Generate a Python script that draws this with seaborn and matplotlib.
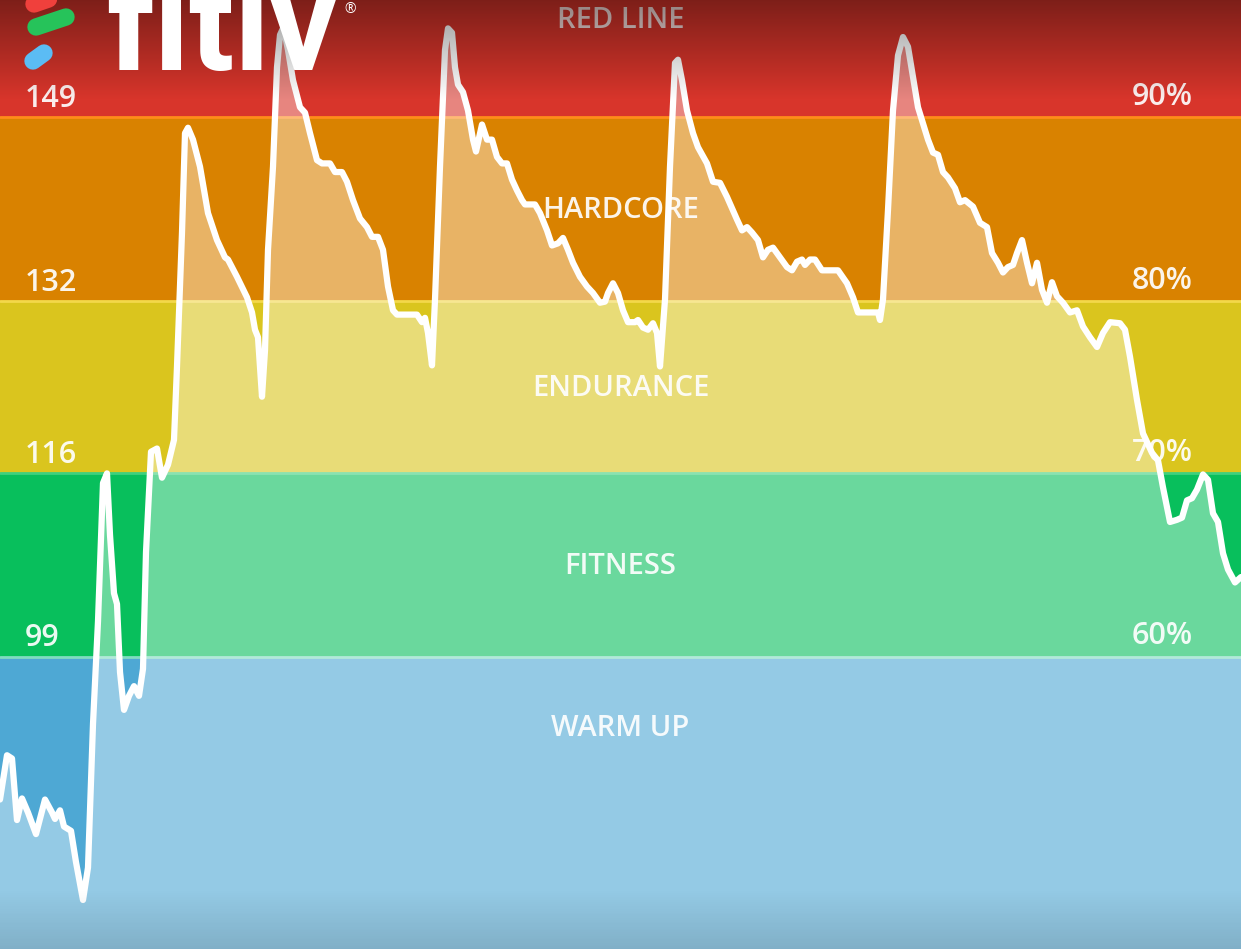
import numpy as np
import pandas as pd
import matplotlib.pyplot as plt
import seaborn as sns

# heart rate trace (time in seconds, bpm)
time_s = [0, 14, 24, 34, 44, 56, 72, 90, 104, 110, 120, 128, 142, 152, 166, 176,
          186, 196, 206, 214, 220, 228, 234, 240, 248, 258, 268, 278, 286, 292,
          302, 314, 324, 336, 348, 354, 364, 370, 376, 386, 400, 416, 434, 450,
          456, 474, 494, 504, 510, 516, 524, 530, 536, 546, 554, 560, 566, 572,
          576, 586, 600, 610, 620, 634, 644, 660, 670, 684, 694, 706, 720, 734,
          744, 756, 766, 776, 786, 794, 834, 844, 850, 856, 864, 870, 880, 890,
          896, 904, 910, 916, 926, 936, 946, 952, 964, 974, 984, 994, 1004, 1014,
          1024, 1034, 1044, 1050, 1070, 1080, 1094, 1104, 1116, 1126, 1136, 1146,
          1160, 1174, 1186, 1200, 1210, 1216, 1226, 1236, 1246, 1256, 1270, 1276,
          1286, 1296, 1306, 1314, 1320, 1330, 1340, 1350, 1356, 1364, 1374, 1386,
          1396, 1414, 1426, 1440, 1454, 1474, 1484, 1494, 1504, 1516, 1526, 1536,
          1546, 1560, 1574, 1584, 1594, 1604, 1610, 1620, 1630, 1644, 1660, 1676,
          1694, 1706, 1716, 1726, 1756, 1760, 1766, 1776, 1786, 1796, 1806, 1816,
          1826, 1836, 1846, 1856, 1866, 1876, 1886, 1896, 1910, 1920, 1930, 1946,
          1960, 1974, 1984, 1996, 2006, 2016, 2026, 2034, 2044, 2054, 2064, 2074,
          2084, 2094, 2104, 2114, 2126, 2140, 2154, 2166, 2180, 2194, 2206, 2220,
          2240, 2250, 2260, 2274, 2286, 2304, 2316, 2326, 2340, 2354, 2364, 2374,
          2384, 2394, 2406, 2416, 2426, 2436, 2446, 2456, 2470, 2482]
bpm = [85.8, 89.9, 89.6, 83.9, 85.9, 84.6, 82.6, 85.8, 84.6, 84.0, 84.8, 83.3,
       82.9, 80.0, 76.5, 79.5, 92.8, 102.3, 115.1, 116.0, 110.3, 104.9, 103.9,
       97.6, 94.1, 95.4, 96.3, 95.4, 97.9, 108.7, 118.0, 118.3, 115.6, 116.8,
       119.1, 125.9, 138.3, 147.5, 148.0, 146.9, 144.4, 140.1, 137.6, 136.0,
       135.8, 134.2, 132.3, 130.9, 129.3, 128.6, 123.1, 127.4, 136.7, 144.4,
       153.6, 156.6, 157.2, 156.1, 155.2, 152.4, 149.9, 149.4, 147.5, 145.0,
       144.7, 144.7, 143.9, 143.9, 143.0, 141.3, 139.6, 138.8, 137.9, 137.9,
       136.7, 133.3, 131.1, 130.7, 130.7, 130.0, 130.4, 129.0, 126.0, 132.1,
       144.4, 155.2, 157.2, 156.8, 153.6, 152.0, 151.3, 149.6, 146.9, 145.8,
       148.3, 146.9, 146.9, 145.3, 144.7, 144.7, 143.2, 142.2, 141.3, 140.9,
       140.9, 140.1, 138.5, 137.1, 137.3, 137.8, 136.7, 135.5, 134.2, 133.3,
       132.7, 131.8, 131.9, 132.7, 133.6, 132.7, 131.1, 130.0, 130.0, 130.2,
       129.5, 129.3, 129.9, 129.0, 125.9, 132.1, 144.4, 154.0, 154.3, 152.4,
       149.6, 147.5, 146.2, 144.7, 143.0, 142.9, 141.6, 139.5, 138.5, 138.8,
       138.3, 137.6, 136.0, 136.7, 136.9, 136.0, 135.1, 134.8, 135.6, 135.8,
       135.3, 135.8, 135.8, 134.8, 134.8, 134.8, 133.6, 132.3, 130.9, 130.9,
       130.9, 130.2, 132.1, 140.4, 149.6, 154.7, 156.4, 155.5, 152.7, 149.9,
       148.4, 146.9, 145.7, 145.5, 143.9, 143.4, 142.4, 141.1, 141.3, 140.7,
       139.2, 138.8, 136.4, 135.5, 134.6, 135.1, 135.3, 136.4, 137.6, 135.5,
       133.6, 135.5, 133.0, 131.8, 133.7, 132.4, 131.8, 130.9, 131.1, 129.6,
       128.6, 127.7, 129.0, 130.0, 129.9, 129.3, 126.8, 122.8, 119.7, 117.9,
       117.2, 114.7, 111.5, 111.7, 111.9, 113.5, 113.7, 114.5, 115.9, 115.4,
       112.3, 111.5, 108.6, 107.1, 105.9, 106.4]

# zones
zone_names = ['WARM UP', 'FITNESS', 'ENDURANCE', 'HARDCORE', 'RED LINE']
zone_edges = [99, 116, 132, 149]
zone_pcts = ['60%', '70%', '80%', '90%']
zone_colors = ['#4ea8d4', '#08bf5c', '#dac51e', '#d98200', '#d8352b']
edge_colors = ['#7fdcc0', '#3fd07e', '#f3d84a', '#ff8c1a']

y_min, y_max = 71.96, 159.83
x_max = time_s[-1]

df = pd.DataFrame({'time_s': time_s, 'bpm': bpm})

sns.set_style('white')
plt.rcParams['font.family'] = ['Open Sans', 'DejaVu Sans']

fig = plt.figure(figsize=(12.41, 9.49), dpi=100)
ax = fig.add_axes([0, 0, 1, 1])

# zone bands
bounds = [y_min] + zone_edges + [y_max]
for i, c in enumerate(zone_colors):
    ax.axhspan(bounds[i], bounds[i + 1], color=c, lw=0, zorder=0)
for e, c in zip(zone_edges, edge_colors):
    ax.axhline(e, color=c, lw=2, zorder=1)

# zone labels (under the trace)
label_y = [729, 567, 388, 210, 20]   # pixel rows from the screenshot
for name, py in zip(zone_names, label_y):
    ax.text(0.5, 1 - py / 949, name, transform=ax.transAxes, ha='center', va='center',
            fontsize=21, fontweight='semibold', color='white',
            alpha=0.92 if name != 'RED LINE' else 0.85, zorder=2)

num_y = [638, 455, 283, 99]
pct_y = [636, 453, 281, 97]
for e, py in zip(zone_edges, num_y):
    ax.text(25 / 1241, 1 - py / 949, str(e), transform=ax.transAxes, ha='left', va='center',
            fontsize=22, fontweight='semibold', color='white', alpha=0.92, zorder=2)
for p, py in zip(zone_pcts, pct_y):
    ax.text(1193 / 1241, 1 - py / 949, p, transform=ax.transAxes, ha='right', va='center',
            fontsize=22, fontweight='semibold', color='white', alpha=0.92, zorder=2)

# lighter area beneath the trace
ax.fill_between(df['time_s'], df['bpm'], y_min, color='white', alpha=0.4, lw=0, zorder=3)
sns.lineplot(data=df, x='time_s', y='bpm', ax=ax, color='white', lw=4.5,
             estimator=None, zorder=4, solid_joinstyle='round', solid_capstyle='round')

ax.set_xlim(0, x_max)
ax.set_ylim(y_min, y_max)
ax.axis('off')

# overlay axes in pixel coords: shading and logo
ax2 = fig.add_axes([0, 0, 1, 1])
ax2.patch.set_alpha(0)
top = np.zeros((100, 1, 4))
top[:, 0, 3] = np.linspace(0.42, 0.0, 100)
ax2.imshow(top, extent=(0, 1241, 100, 0), aspect='auto', zorder=1)
bot = np.zeros((60, 1, 4))
bot[:, 0, 3] = np.linspace(0.0, 0.13, 60)
ax2.imshow(bot, extent=(0, 1241, 949, 889), aspect='auto', zorder=1)

ax2.plot([34, 66], [4, -7], color='#f0403c', lw=12.5, solid_capstyle='round', zorder=2)
ax2.plot([36, 66], [27, 17], color='#26c35a', lw=12.5, solid_capstyle='round', zorder=2)
ax2.plot([33, 44], [61, 53], color='#5bbcf4', lw=12.5, solid_capstyle='round', zorder=2)
ax2.text(106, 70, 'fitiv', ha='left', va='baseline', fontsize=96, fontweight='bold',
         family=['Roboto', 'DejaVu Sans'], color='white', zorder=3)
ax2.text(344, 9, '®', ha='left', va='center', fontsize=10, color='white', zorder=3)

ax2.set_xlim(0, 1241)
ax2.set_ylim(949, 0)
ax2.axis('off')

fig.savefig('out.png', dpi=100)
